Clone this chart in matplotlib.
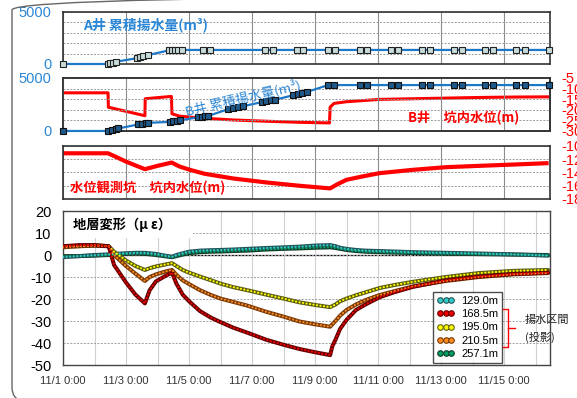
import matplotlib.pyplot as plt
from matplotlib import font_manager
from matplotlib.lines import Line2D
from matplotlib.patches import FancyBboxPatch, Rectangle

# data (time in days from 11/1 0:00)
xtick_labels = ['11/1 0:00', '11/3 0:00', '11/5 0:00', '11/7 0:00',
                '11/9 0:00', '11/11 0:00', '11/13 0:00', '11/15 0:00']

# A well cumulative pumped volume (m3)
t_a = [0, 1.43, 1.5, 1.58, 1.68, 2.35, 2.45, 2.55, 2.7, 3.35, 3.45, 3.55, 3.65, 3.78,
       4.45, 4.67, 6.41, 6.68, 7.42, 7.63, 8.42, 8.63, 9.43, 9.64, 10.4, 10.64,
       11.4, 11.65, 12.4, 12.66, 13.4, 13.66, 14.37, 14.67, 15.42]
vol_a = [0, 0, 60, 130, 220, 560, 650, 760, 860, 1300, 1340, 1350, 1350, 1350,
         1350, 1350, 1350, 1350, 1350, 1350, 1350, 1350, 1350, 1350, 1350, 1350,
         1350, 1350, 1350, 1350, 1350, 1350, 1350, 1350, 1350]

# B well cumulative pumped volume (m3)
t_b = [0, 1.44, 1.56, 1.67, 1.76, 2.39, 2.52, 2.63, 2.71, 3.4, 3.5, 3.61, 3.71,
       4.3, 4.4, 4.51, 4.61, 5.25, 5.4, 5.55, 5.72, 6.31, 6.45, 6.6, 6.73,
       7.31, 7.45, 7.6, 7.74, 8.42, 8.6, 9.43, 9.64, 10.4, 10.64, 11.4, 11.65,
       12.4, 12.66, 13.4, 13.66, 14.37, 14.67, 15.42]
vol_b = [0, 0, 100, 180, 240, 620, 690, 740, 770, 860, 900, 950, 1000,
         1300, 1350, 1380, 1420, 2060, 2150, 2250, 2340, 2720, 2800, 2880, 2950,
         3370, 3480, 3580, 3680, 4330, 4330, 4330, 4330, 4330, 4330, 4330, 4330,
         4330, 4330, 4330, 4330, 4330, 4330, 4330]

# B well water level (m)
t_bw = [0, 1.43, 1.44, 2.6, 2.61, 3.44, 3.46, 3.7, 4.35, 5.4, 6.45, 7.5, 8.46,
        8.48, 8.6, 9.0, 10.05, 11.1, 12.15, 13.2, 14.3, 15.4]
lvl_b = [-12, -12, -18.8, -22.8, -14.8, -13.7, -21.9, -23, -23.9, -24.8, -25.4, -25.9, -26.2,
         -18.8, -17, -16.2, -15.1, -14.8, -14.5, -14.2, -14.0, -13.9]

# observation well water level (m)
t_obs = [0, 1.43, 1.75, 2.02, 2.6, 3.0, 3.45, 3.7, 4.03, 4.5, 5.4, 6.45, 7.5, 8.48,
         8.7, 9.0, 9.5, 10.05, 11.1, 12.15, 13.2, 14.3, 15.35]
lvl_obs = [-11.1, -11.1, -11.8, -12.4, -13.5, -13.0, -12.5, -13.1, -13.6, -14.2, -14.9,
           -15.5, -16.0, -16.4, -15.8, -15.1, -14.6, -14.1, -13.6, -13.2, -13.0, -12.8, -12.6]

# strain (micro strain)
t_s = [0, 0.5, 1.0, 1.45, 1.62, 2.0, 2.3, 2.6, 2.75, 2.95, 3.25, 3.46, 3.6, 3.8, 4.0,
       4.35, 4.7, 5.0, 5.4, 5.85, 6.45, 7.0, 7.5, 8.0, 8.48, 8.55, 8.65, 8.8, 9.0,
       9.3, 9.6, 10.05, 10.5, 11.1, 12.15, 13.2, 14.3, 15.4]
s_129 = [-1, -0.5, 0, 0.3, 0.5, 0.8, 1, 1, 0.8, 0.5, -0.3, -0.8, 0, 0.8, 1.5,
         2, 2.2, 2.3, 2.5, 2.8, 3.2, 3.5, 3.8, 4.3, 4.5, 4.3, 4, 3.3, 2.8,
         2.3, 2, 1.8, 1.6, 1.3, 1, 0.7, 0.3, -0.3]
s_168 = [4, 4.5, 4.5, 4, -4.5, -12.5, -18, -22, -16, -12, -9.5, -8, -13, -18, -21,
         -25.5, -28.5, -30.5, -33, -35.3, -38.5, -40.8, -42.7, -44.2, -45.5, -41.5, -38.5, -33.5, -29.5,
         -25, -22.5, -19.2, -17, -14.5, -11.5, -9.8, -8.6, -8]
s_195 = [4, 4, 4.5, 4, 1.5, -2.5, -5, -6.8, -6, -5.2, -4.3, -3.7, -5, -6.8, -8,
         -9.8, -11.5, -13, -14.6, -16, -18, -19.8, -21.5, -22.7, -23.7, -23.2, -22.5, -21, -19.8,
         -18.3, -17, -15, -13.7, -12.2, -10, -8.2, -7.2, -6.8]
s_210 = [3.5, 4, 4.2, 4, 0, -5, -8.5, -11.8, -10, -8.8, -7.5, -6.8, -9, -11.5, -13.2,
         -16, -18.2, -19.8, -21.3, -23, -25.8, -28, -30.2, -31.5, -32.6, -31.5, -30, -27.5, -25,
         -22.5, -20.5, -18.2, -16.5, -14.3, -11.8, -10, -8.8, -8.2]
s_257 = [-0.5, -0.5, -0.3, 0, 0.2, 0.5, 0.7, 0.5, 0.3, 0, -0.6, -1, -0.5, 0.2, 0.8,
         1.3, 1.5, 1.6, 1.8, 2, 2.5, 2.8, 3, 3.3, 3.5, 3.4, 3.2, 2.8, 2.3,
         1.8, 1.5, 1.3, 1.1, 0.9, 0.6, 0.4, 0.2, 0]
depth_labels = ['129.0m', '168.5m', '195.0m', '210.5m', '257.1m']

plt.rcParams['font.family'] = ['Liberation Sans', 'Noto Sans CJK JP']
plt.rcParams['axes.unicode_minus'] = False
JP = ['Noto Sans CJK JP', 'DejaVu Sans']
BLUE = '#1E78C8'
BLUE_T = '#2A86D6'
RED = '#FF0000'
XMAX = 15.46

# narrow font for the date labels if there is one
try:
    font_manager.findfont('Liberation Sans Narrow', fallback_to_default=False)
    XFONT, XSIZE = 'Liberation Sans Narrow', 8.5
except ValueError:
    XFONT, XSIZE = 'Liberation Sans', 8

fig = plt.figure(figsize=(5.77, 3.98), dpi=100)
ax1 = fig.add_axes([0.1092, 0.8392, 0.844, 0.1307])
ax2 = fig.add_axes([0.1092, 0.6709, 0.844, 0.1332])
ax3 = fig.add_axes([0.1092, 0.5000, 0.844, 0.1332])
ax4 = fig.add_axes([0.1092, 0.0829, 0.844, 0.3869])


def top_frame(ax):
    ax.set_xlim(0, XMAX)
    ax.set_xticks(range(0, 16, 2))
    ax.grid(axis='x', color='#8c8c8c', lw=0.8)
    ax.grid(axis='y', color='#9a9a9a', ls=(0, (2, 1.5)), lw=0.7)
    ax.tick_params(length=0, labelbottom=False, pad=8.5, labelsize=10.5)
    for s in ax.spines.values():
        s.set_color('#333333')
        s.set_linewidth(1.2)


# A well
top_frame(ax1)
ax1.set_ylim(0, 5000)
ax1.set_yticks(range(0, 5001, 1000), ['0', '', '', '', '', '5000'])
ax1.tick_params(axis='y', labelcolor=BLUE_T)
ax1.plot(t_a, vol_a, color=BLUE, lw=1.6, marker='s', ms=3.8,
         mfc='#C8DCDC', mec='#222222', mew=0.8, clip_on=False, zorder=3)
ax1.text(0.041, 0.75, 'A井 累積揚水量(m³)', transform=ax1.transAxes, family=JP,
         fontsize=10, fontweight='bold', color=BLUE_T, va='center')

# B well
top_frame(ax2)
ax2.set_ylim(0, 5000)
ax2.set_yticks(range(0, 5001, 1000), ['0', '', '', '', '', '5000'])
ax2.tick_params(axis='y', labelcolor=BLUE_T)
ax2b = ax2.twinx()
ax2b.set_ylim(-30, -5)
ax2b.set_yticks(range(-30, -4, 5))
ax2b.tick_params(length=0, labelcolor=RED, pad=8, labelsize=10.5)
for s in ax2b.spines.values():
    s.set_color('#333333')
    s.set_linewidth(1.2)
ax2b.plot(t_bw, lvl_b, color=RED, lw=2.2, zorder=2)
ax2.set_zorder(ax2b.get_zorder() + 1)
ax2.patch.set_visible(False)
ax2.plot(t_b, vol_b, color=BLUE, lw=1.6, marker='s', ms=3.8,
         mfc='#1F5A8A', mec='#111111', mew=0.8, clip_on=False, zorder=3)
ax2.text(0.37, 0.62, 'B井 累積揚水量(m³)', transform=ax2.transAxes, family=JP,
         fontsize=9.5, color=BLUE_T, va='center', ha='center', rotation=13)
ax2.text(0.708, 0.245, 'B井　坑内水位(m)', transform=ax2.transAxes, family=JP,
         fontsize=9.5, fontweight='bold', color=RED, va='center')

# observation well
top_frame(ax3)
ax3.set_ylim(-18, -10)
ax3.set_yticks(range(-18, -9, 2))
ax3.yaxis.tick_right()
ax3.tick_params(axis='y', labelcolor=RED, pad=8)
ax3.plot(t_obs, lvl_obs, color=RED, lw=3.0)
ax3.text(0.0144, 0.21, '水位観測坑　坑内水位(m)', transform=ax3.transAxes, family=JP,
         fontsize=9.5, fontweight='bold', color=RED, va='center')

# strain
ax4.set_xlim(0, XMAX)
ax4.set_ylim(-50, 20)
ax4.set_yticks(range(-50, 21, 10))
ax4.set_xticks(range(0, 15, 2), xtick_labels)
ax4.set_xticks(range(1, 16, 2), minor=True)
ax4.grid(axis='x', which='both', color='#d0d0d0', lw=0.8)
ax4.grid(axis='y', color='#a0a0a0', ls=(0, (2, 1.5)), lw=0.7)
ax4.tick_params(which='both', length=0)
ax4.tick_params(axis='y', pad=8.5, labelsize=10.5)
ax4.tick_params(axis='x', pad=8, labelcolor='#333333')
for lab in ax4.get_xticklabels():
    lab.set_fontfamily(XFONT)
    lab.set_fontsize(XSIZE)
for s in ax4.spines.values():
    s.set_color('#444444')
    s.set_linewidth(1.0)
ax4.axhline(0, color='black', lw=0.9, zorder=1)

series = [
    (s_257, '#00A060', '#123A28'),
    (s_129, '#33CCCC', '#225555'),
    (s_195, '#FFFF00', '#5E5E10'),
    (s_210, '#FF8C1A', '#7A3A08'),
    (s_168, '#EE0000', '#660000'),
]
for vals, fill, edge in series:
    ax4.plot(t_s, vals, color=edge, lw=2.9, solid_capstyle='round', solid_joinstyle='round', zorder=3)
    ax4.plot(t_s, vals, color=fill, lw=1.5, ls=(0, (0.1, 1.6)), dash_capstyle='round', zorder=4)

ax4.add_patch(Rectangle((0.002, 0.825), 0.265, 0.17, transform=ax4.transAxes,
                        facecolor='white', edgecolor='none', zorder=2))
ax4.text(0.0205, 0.909, '地層変形（μ ε）', transform=ax4.transAxes, family=JP,
         fontsize=9.5, fontweight='bold', color='black', va='center', zorder=5)

leg_colors = [('#33CCCC', '#225555'), ('#EE0000', '#660000'), ('#FFFF00', '#5E5E10'),
              ('#FF8C1A', '#7A3A08'), ('#00A060', '#123A28')]
handles = [Line2D([], [], ls='none', marker='o', ms=4, mfc=f, mec=e, mew=0.8)
           for f, e in leg_colors]
leg = ax4.legend(handles, depth_labels, loc='lower left', bbox_to_anchor=(0.76, 0.013),
                 numpoints=3, handlelength=1.6, handletextpad=0.6, labelspacing=0.3,
                 fontsize=8, fancybox=False, borderpad=0.35, borderaxespad=0)
leg.get_frame().set_edgecolor('#222222')
leg.get_frame().set_linewidth(1.0)
leg.set_zorder(6)

# bracket for pumping interval
W, H = 577.0, 398.0
bx = [503 / W, 508.3 / W, 508.3 / W, 503 / W]
by = [1 - 309.3 / H, 1 - 309.3 / H, 1 - 346.7 / H, 1 - 346.7 / H]
fig.add_artist(Line2D(bx, by, color=RED, lw=1.0, transform=fig.transFigure))
fig.add_artist(Line2D([508.3 / W, 515 / W], [1 - 328 / H, 1 - 328 / H], color=RED, lw=1.0,
                      transform=fig.transFigure))
fig.text(525 / W, 1 - 320 / H, '揚水区間', family=JP, fontsize=8, color='#222222', va='center')
fig.text(525 / W, 1 - 337 / H, '(投影)', family=JP, fontsize=8, color='#222222', va='center')

# rounded outer frame
fig.add_artist(FancyBboxPatch((0.12, -0.03), 6.5, 4.05, boxstyle='round,pad=0,rounding_size=0.14',
                              transform=fig.dpi_scale_trans, fill=False, ec='#666666', lw=1.0))

fig.savefig('out.png', dpi=100)
